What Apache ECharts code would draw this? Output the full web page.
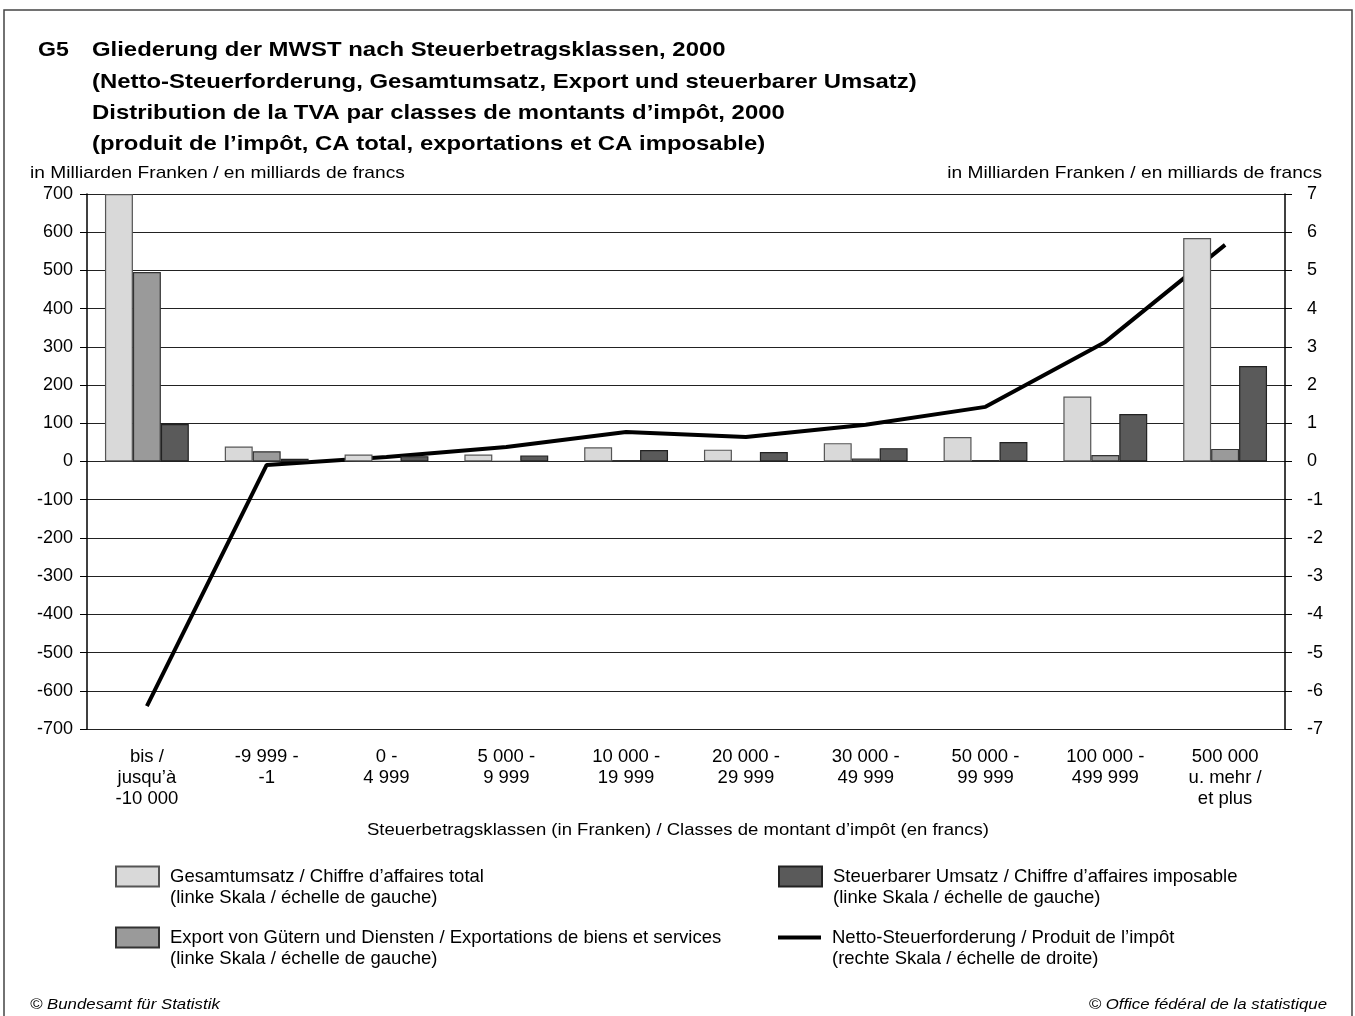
<!DOCTYPE html>
<html>
<head>
<meta charset="utf-8">
<script src="https://cdn.jsdelivr.net/npm/echarts@6/dist/echarts.min.js"></script>
<style>
html,body{margin:0;padding:0;background:#fff;}
#c{width:1355px;height:1016px;}
</style>
</head>
<body>
<div id="c"></div>
<script>
var categories = ['bis /\njusqu\u2019à\n-10 000', '-9 999 -\n-1', '0 -\n4 999', '5 000 -\n9 999', '10 000 -\n19 999', '20 000 -\n29 999', '30 000 -\n49 999', '50 000 -\n99 999', '100 000 -\n499 999', '500 000\nu. mehr /\net plus'];
var gesamtumsatz = [700, 39, 18, 18, 37, 31, 48, 64, 170, 585];
var export_ = [496, 27, 1, 1, 4, 1, 8, 4, 17, 33];
var steuerbar = [98, 7, 14, 16, 30, 25, 35, 51, 124, 250];
var netto = [-6.4, -0.09, 0.12, 0.38, 0.77, 0.64, 0.96, 1.43, 3.13, 5.67];
var leftTicks = {min: -700, max: 700, interval: 100};
var rightTicks = {min: -7, max: 7, interval: 1};

var names = [
  'Gesamtumsatz / Chiffre d\u2019affaires total\n(linke Skala / échelle de gauche)',
  'Export von Gütern und Diensten / Exportations de biens et services\n(linke Skala / échelle de gauche)',
  'Steuerbarer Umsatz / Chiffre d\u2019affaires imposable\n(linke Skala / échelle de gauche)',
  'Netto-Steuerforderung / Produit de l\u2019impôt\n(rechte Skala / échelle de droite)'
];
var FONT = '"Liberation Sans", Arial, Helvetica, sans-serif';
var legTxt = {fontFamily: FONT, fontSize: 18.5, color: '#000', lineHeight: 21, padding: [0, 0, 0, 6]};

function legend(name, left, top, isLine) {
  return {
    data: [isLine ? {name: name, icon: 'rect', itemStyle: {color: '#000', borderWidth: 0}} : {name: name, icon: 'rect'}],
    left: left, top: top, padding: 0, orient: 'vertical',
    itemWidth: 43, itemHeight: isLine ? 4 : 20,
    selectedMode: false,
    formatter: function (n) { return '\n' + n; },
    textStyle: legTxt
  };
}

function txt(t, x, y, font, sx, align) {
  return {type: 'text', x: x, y: y, scaleX: sx, silent: true,
    style: {text: t, font: font, fill: '#000', align: align || 'left', verticalAlign: 'middle'}};
}

var chart = echarts.init(document.getElementById('c'), null, {renderer: 'canvas'});
var TB = 'bold 21px ' + FONT;
chart.setOption({
  animation: false,
  backgroundColor: '#fff',
  grid: {left: 87, right: 70, top: 194, bottom: 287},
  graphic: [
    {type: 'rect', shape: {x: 4, y: 10, width: 1348, height: 1030}, style: {fill: 'none', stroke: '#444', lineWidth: 1.5}, silent: true},
    txt('G5', 38, 50, TB, 1.1),
    txt('Gliederung der MWST nach Steuerbetragsklassen, 2000', 92, 50, TB, 1.138),
    txt('(Netto-Steuerforderung, Gesamtumsatz, Export und steuerbarer Umsatz)', 92, 82, TB, 1.138),
    txt('Distribution de la TVA par classes de montants d\u2019impôt, 2000', 92, 113, TB, 1.138),
    txt('(produit de l\u2019impôt, CA total, exportations et CA imposable)', 92, 144, TB, 1.138),
    txt('in Milliarden Franken / en milliards de francs', 30, 173, '17px ' + FONT, 1.127),
    txt('in Milliarden Franken / en milliards de francs', 1322, 173, '17px ' + FONT, 1.127, 'right'),
    txt('Steuerbetragsklassen (in Franken) / Classes de montant d\u2019impôt (en francs)', 678, 830, '17px ' + FONT, 1.09, 'center'),
    txt('© Bundesamt für Statistik', 30, 1005, 'italic 15px ' + FONT, 1.12),
    txt('© Office fédéral de la statistique', 1327, 1005, 'italic 15px ' + FONT, 1.12, 'right')
  ],
  legend: [
    legend(names[0], 115, 845, false),
    legend(names[1], 115, 906, false),
    legend(names[2], 778, 845, false),
    legend(names[3], 778, 906, true)
  ],
  xAxis: {
    type: 'category', data: categories,
    axisLine: {show: false}, axisTick: {show: false},
    axisLabel: {fontFamily: FONT, fontSize: 18.5, color: '#000', lineHeight: 21, margin: 17, interval: 0}
  },
  yAxis: [
    {
      type: 'value', min: leftTicks.min, max: leftTicks.max, interval: leftTicks.interval,
      axisLine: {show: true, lineStyle: {color: '#000', width: 1.5}},
      axisTick: {show: true, length: 7, lineStyle: {color: '#000'}},
      axisLabel: {fontFamily: FONT, fontSize: 18, color: '#000', margin: 14},
      splitLine: {show: true, lineStyle: {color: '#222', width: 1.2}}
    },
    {
      type: 'value', min: rightTicks.min, max: rightTicks.max, interval: rightTicks.interval,
      position: 'right',
      axisLine: {show: true, lineStyle: {color: '#000', width: 1.5}},
      axisTick: {show: true, length: 7, lineStyle: {color: '#000'}},
      axisLabel: {fontFamily: FONT, fontSize: 18, color: '#000', margin: 22},
      splitLine: {show: false}
    }
  ],
  series: [
    {name: names[3], type: 'line', yAxisIndex: 1, data: netto, symbol: 'none', z: 1,
     lineStyle: {color: '#000', width: 4}, itemStyle: {color: '#000'}},
    {name: names[0], type: 'bar', data: gesamtumsatz, barGap: '0%', barCategoryGap: '30%', z: 3,
     itemStyle: {color: '#d9d9d9', borderColor: '#555', borderWidth: 1.2}},
    {name: names[1], type: 'bar', data: export_, z: 3,
     itemStyle: {color: '#9a9a9a', borderColor: '#333', borderWidth: 1.2}},
    {name: names[2], type: 'bar', data: steuerbar, z: 3,
     itemStyle: {color: '#5a5a5a', borderColor: '#222', borderWidth: 1.2}}
  ]
});
</script>
</body>
</html>
